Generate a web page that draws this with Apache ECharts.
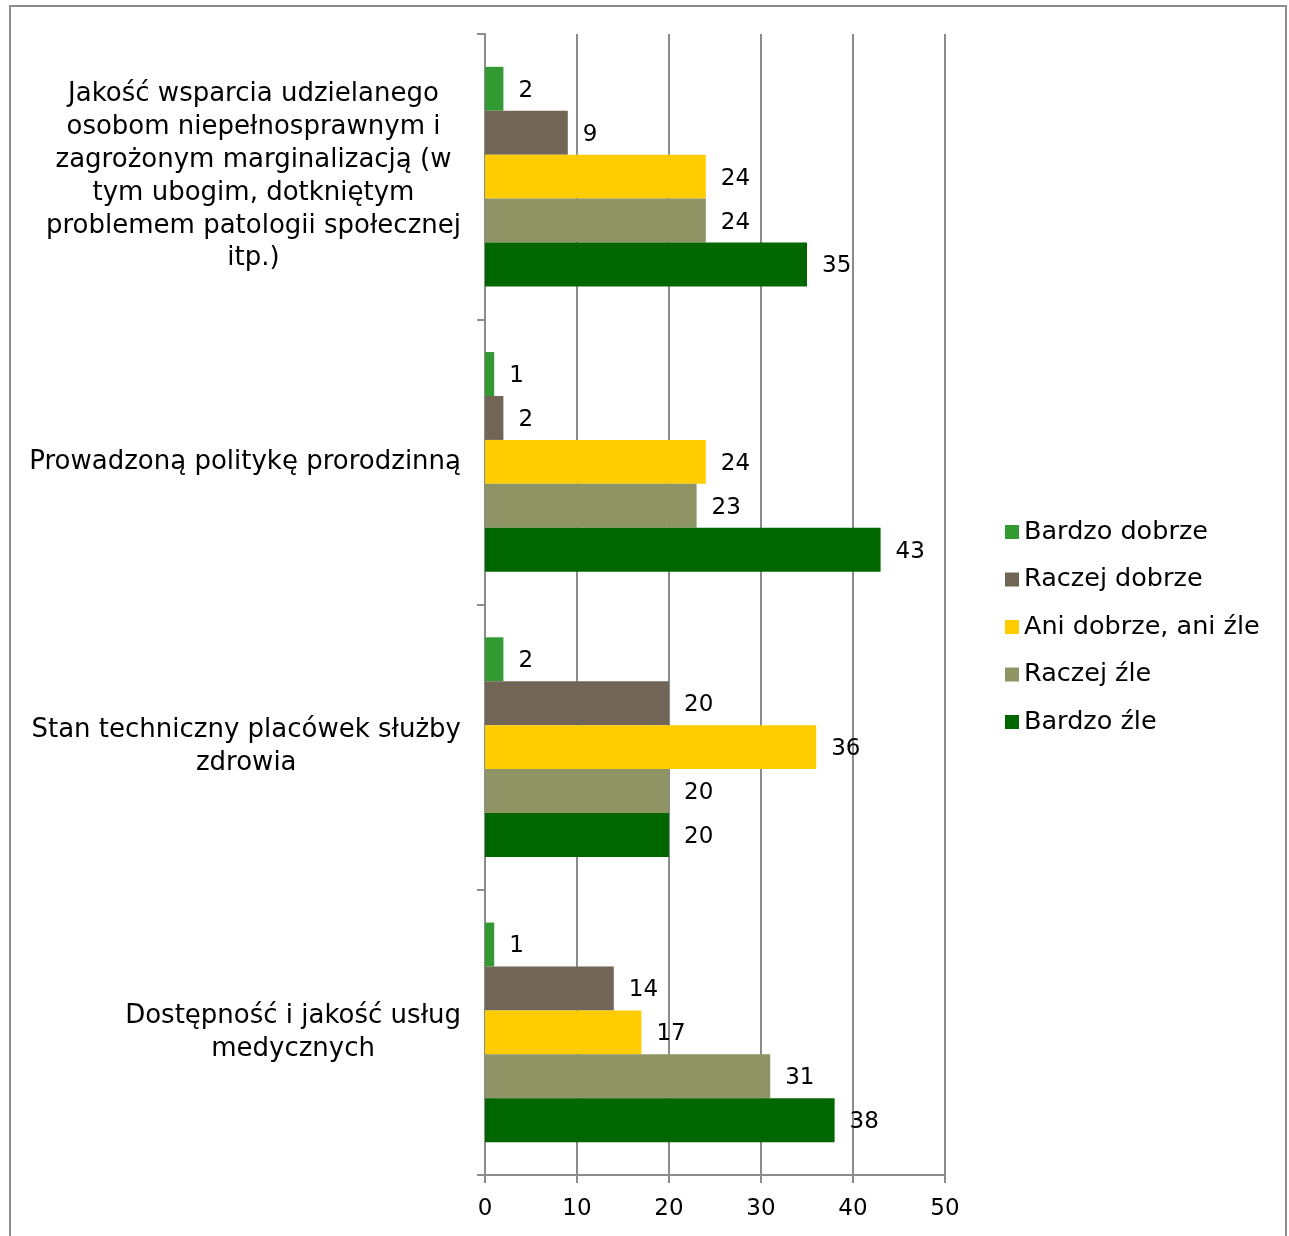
<!DOCTYPE html>
<html>
<head>
<meta charset="utf-8">
<script src="https://cdn.jsdelivr.net/npm/echarts@6/dist/echarts.min.js"></script>
<style>
  html, body { margin: 0; padding: 0; background: #fff; }
  #frame { position: absolute; left: 9px; top: 5px; width: 1278px; height: 1260px; border: 2px solid #8c8c8c; box-sizing: border-box; }
  #chart { position: absolute; left: 0; top: 0; width: 1289px; height: 1236px; }
</style>
</head>
<body>
<div id="frame"></div>
<div id="chart"></div>
<script>
const categories = [
  'Jakość wsparcia udzielanego\nosobom niepełnosprawnym i\nzagrożonym marginalizacją (w\ntym ubogim, dotkniętym\nproblemem patologii społecznej\nitp.)',
  'Prowadzoną politykę prorodzinną',
  'Stan techniczny placówek służby\nzdrowia',
  'Dostępność i jakość usług\nmedycznych'
];
const seriesNames = ['Bardzo dobrze', 'Raczej dobrze', 'Ani dobrze, ani źle', 'Raczej źle', 'Bardzo źle'];
const bardzoDobrze = [2, 1, 2, 1];
const raczejDobrze = [9, 2, 20, 14];
const aniDobrzeAniZle = [24, 24, 36, 17];
const raczejZle = [24, 23, 20, 31];
const bardzoZle = [35, 43, 20, 38];
const xTicks = [0, 10, 20, 30, 40, 50];

const colors = ['#339933', '#716655', '#ffcc00', '#8f9464', '#006600'];
const FONT = 'DejaVu Sans';
const seriesData = [bardzoDobrze, raczejDobrze, aniDobrzeAniZle, raczejZle, bardzoZle];

const chart = echarts.init(document.getElementById('chart'));
chart.setOption({
  backgroundColor: 'transparent',
  animation: false,
  textStyle: { fontFamily: FONT, color: '#000' },
  grid: { left: 485, right: 344, top: 34, bottom: 61, containLabel: false },
  legend: {
    orient: 'vertical',
    left: 1000,
    top: 514,
    icon: 'rect',
    itemWidth: 14,
    itemHeight: 14,
    itemGap: 21.5,
    data: seriesNames,
    textStyle: { fontFamily: FONT, fontSize: 25.5, color: '#000', lineHeight: 26 }
  },
  xAxis: {
    type: 'value',
    min: xTicks[0],
    max: xTicks[xTicks.length - 1],
    interval: 10,
    axisLine: { show: true, lineStyle: { color: '#8c8c8c', width: 2 } },
    axisTick: { show: true, length: 8, lineStyle: { color: '#8c8c8c', width: 2 } },
    splitLine: { show: true, lineStyle: { color: '#8c8c8c', width: 2 } },
    axisLabel: { fontFamily: FONT, fontSize: 23, color: '#000', margin: 23 }
  },
  yAxis: {
    type: 'category',
    inverse: true,
    data: categories,
    axisLine: { show: true, lineStyle: { color: '#8c8c8c', width: 2 } },
    axisTick: { show: true, length: 8, lineStyle: { color: '#8c8c8c', width: 2 } },
    axisLabel: {
      margin: 24,
      align: 'right',
      formatter: v => v.split('\n').map(l => '{c|' + l + '}').join('\n'),
      rich: { c: { align: 'center', fontFamily: FONT, fontSize: 26, lineHeight: 32.8, color: '#000' } }
    }
  },
  series: seriesNames.map((name, i) => ({
    name,
    type: 'bar',
    data: seriesData[i],
    barGap: '0%',
    barCategoryGap: '23%',
    itemStyle: { color: colors[i] },
    label: {
      show: true,
      position: 'right',
      distance: 15,
      fontFamily: FONT,
      fontSize: 23,
      color: '#000',
      offset: [0, 2]
    }
  }))
});
</script>
</body>
</html>
